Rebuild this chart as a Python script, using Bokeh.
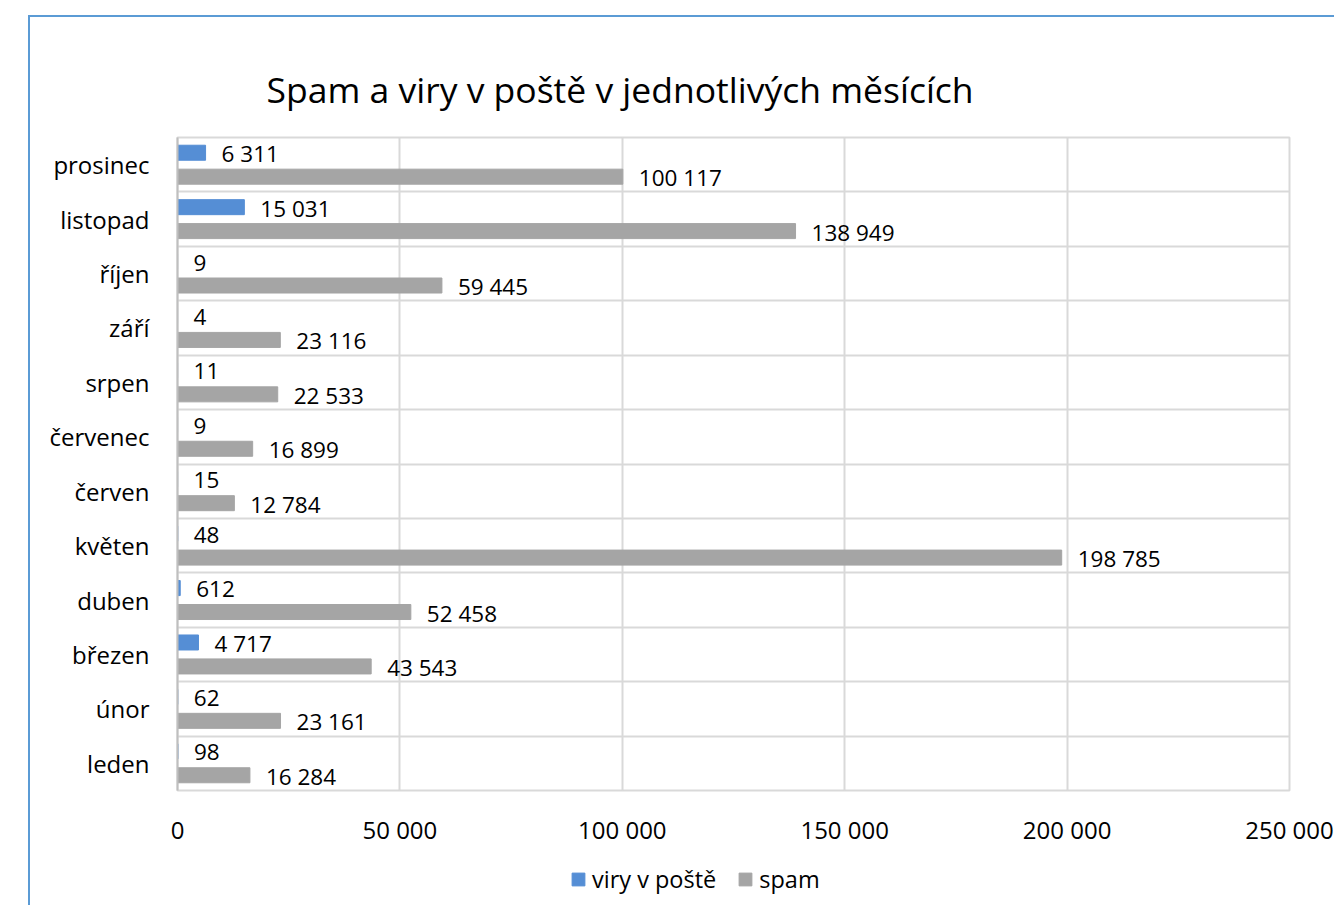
from bokeh.plotting import figure
from bokeh.layouts import column
from bokeh.models import ColumnDataSource, FixedTicker, Legend, LegendItem, Range1d
from bokeh.core.properties import value
from bokeh.embed import file_html
from bokeh.resources import INLINE

months = ["leden", "únor", "březen", "duben", "květen", "červen",
          "červenec", "srpen", "září", "říjen", "listopad", "prosinec"]
viry = [98, 62, 4717, 612, 48, 15, 9, 11, 4, 9, 15031, 6311]
spam = [16284, 23161, 43543, 52458, 198785, 12784, 16899, 22533, 23116, 59445, 138949, 100117]
x_ticks = [0, 50000, 100000, 150000, 200000, 250000]
x_tick_labels = ["0", "50 000", "100 000", "150 000", "200 000", "250 000"]
series_names = ["viry v poště", "spam"]

FONT = "Open Sans"
BLUE = "#558ED5"
GRAY = "#A5A5A5"
BORDER = "2px solid #5B9BD5"


def fmt(v):
    return f"{v:,}".replace(",", " ")


idx = list(range(len(months)))
src_v = ColumnDataSource(dict(y=[i + 0.22 for i in idx], x=viry, lab=[fmt(v) for v in viry]))
src_s = ColumnDataSource(dict(y=[i - 0.22 for i in idx], x=spam, lab=[fmt(v) for v in spam]))

p = figure(width=1306, height=845, output_backend="svg", toolbar_location=None,
           x_range=Range1d(0, 250000), y_range=Range1d(-0.5, 11.5),
           min_border_left=147, min_border_right=47, min_border_top=120, min_border_bottom=72,
           title="Spam a viry v poště v jednotlivých měsících")
p.margin = (15, 0, 0, 28)
p.styles = {"border-top": BORDER, "border-left": BORDER}

p.title.text_font = FONT
p.title.text_font_size = "35.5px"
p.title.text_font_style = "normal"
p.title.text_color = "#000000"
p.title.align = "left"
p.title.offset = 89
p.title.standoff = 50

p.hbar(y="y", right="x", left=0, height=0.276, source=src_v, color=BLUE)
p.hbar(y="y", right="x", left=0, height=0.276, source=src_s, color=GRAY)

p.text(x="x", y="y", text="lab", source=src_v, x_offset=16, y_offset=1,
       text_baseline="middle", text_align="left", text_font=value(FONT),
       text_font_size="22.5px", text_color="#000000")
p.text(x="x", y="y", text="lab", source=src_s, x_offset=16, y_offset=1,
       text_baseline="middle", text_align="left", text_font=value(FONT),
       text_font_size="22.5px", text_color="#000000")

# x axis
p.xaxis.ticker = FixedTicker(ticks=x_ticks)
p.xaxis.major_label_overrides = {t: l for t, l in zip(x_ticks, x_tick_labels)}
p.xaxis.axis_line_color = None
p.xaxis.major_tick_line_color = None
p.xaxis.minor_tick_line_color = None
p.xaxis.major_label_text_font = FONT
p.xaxis.major_label_text_font_size = "24px"
p.xaxis.major_label_text_color = "#000000"
p.xaxis.major_label_standoff = 16

# y axis
p.yaxis.ticker = FixedTicker(ticks=idx)
p.yaxis.major_label_overrides = {i: m for i, m in zip(idx, months)}
p.yaxis.axis_line_color = "#BFBFBF"
p.yaxis.axis_line_width = 2
p.yaxis.major_tick_line_color = None
p.yaxis.minor_tick_line_color = None
p.yaxis.major_label_text_font = FONT
p.yaxis.major_label_text_font_size = "24px"
p.yaxis.major_label_text_color = "#000000"
p.yaxis.major_label_standoff = 22

# grids
p.xgrid.ticker = FixedTicker(ticks=x_ticks)
p.ygrid.ticker = FixedTicker(ticks=[i - 0.5 for i in range(len(months) + 1)])
p.xgrid.grid_line_color = "#D9D9D9"
p.ygrid.grid_line_color = "#D9D9D9"
p.xgrid.grid_line_width = 2
p.ygrid.grid_line_width = 2
p.outline_line_color = "#D9D9D9"
p.outline_line_width = 2

# legend strip below the chart (its renderers hold off-screen placeholder data)
lf = figure(width=1306, height=45, output_backend="svg", toolbar_location=None,
            x_range=Range1d(0, 1), y_range=Range1d(0, 1),
            min_border=0, min_border_left=0, min_border_right=0,
            min_border_top=0, min_border_bottom=0)
lf.margin = (0, 0, 0, 28)
lf.styles = {"border-left": BORDER}
lf.axis.visible = False
lf.grid.visible = False
lf.outline_line_color = None
hidden = ColumnDataSource(dict(y=[-10], x=[1]))
lr_v = lf.hbar(y="y", right="x", left=0, height=1, source=hidden, color=BLUE)
lr_s = lf.hbar(y="y", right="x", left=0, height=1, source=hidden, color=GRAY)
legend = Legend(items=[LegendItem(label=series_names[0], renderers=[lr_v]),
                       LegendItem(label=series_names[1], renderers=[lr_s])],
                orientation="horizontal", location=(393, 10),
                label_text_font=FONT, label_text_font_size="23.5px",
                label_text_color="#000000",
                glyph_width=16, glyph_height=16, spacing=21,
                label_standoff=6, border_line_color=None, background_fill_alpha=0,
                padding=0, margin=0)
lf.add_layout(legend)

layout = column(p, lf, spacing=0)
open("out.html", "w").write(file_html(layout, INLINE))
